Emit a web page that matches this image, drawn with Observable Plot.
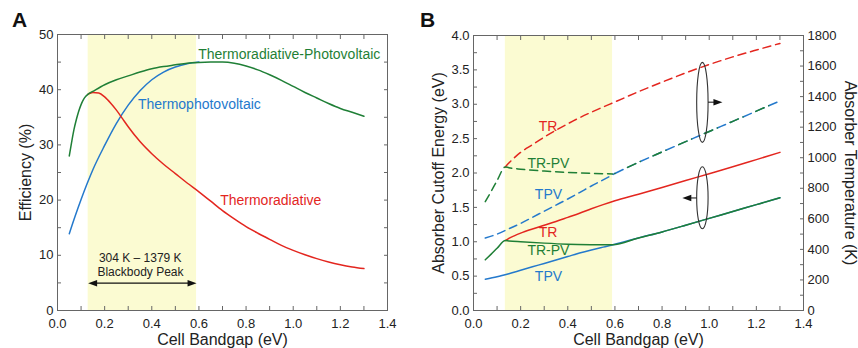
<!DOCTYPE html>
<html><head><meta charset="utf-8">
<script src="https://cdn.jsdelivr.net/npm/d3@7"></script>
<script src="https://cdn.jsdelivr.net/npm/@observablehq/plot@0.6"></script>
<style>
body{margin:0;background:#fff;}
#wrap{position:relative;width:858px;height:348px;overflow:hidden;font-family:"Liberation Sans",Arial,sans-serif;}
#a{position:absolute;left:0;top:0;}
#b{position:absolute;left:420px;top:0;}
</style></head><body><div id="wrap"><div id="a"></div><div id="b"></div></div>
<script>
// ---------- Panel A data (efficiency %, vs cell bandgap eV) ----------
const trpvX = [0.05,0.06,0.07,0.08,0.09,0.10,0.11,0.12,0.13,0.15,0.20,0.25,0.30,0.35,0.40,0.45,0.50,0.55,0.60,0.65,0.70,0.75,0.80,0.85,0.90,0.95,1.00,1.05,1.10,1.15,1.20,1.25,1.30];
const trpvEff = [28.0,30.5,32.8,34.6,36.1,37.3,38.2,38.8,39.2,39.7,40.9,41.8,42.5,43.2,43.8,44.2,44.5,44.8,44.95,45.0,45.0,44.8,44.3,43.6,42.7,41.7,40.6,39.5,38.5,37.5,36.6,35.9,35.2];
const tpvX = [0.05,0.075,0.10,0.125,0.15,0.20,0.25,0.30,0.35,0.40,0.45,0.50,0.55,0.60];
const tpvEff = [13.9,17.1,20.1,22.9,25.5,29.9,33.9,37.2,39.8,41.8,43.2,44.1,44.7,45.0];
const trX = [0.13,0.15,0.175,0.20,0.225,0.25,0.275,0.30,0.35,0.40,0.45,0.50,0.55,0.60,0.65,0.70,0.75,0.80,0.85,0.90,0.95,1.00,1.05,1.10,1.15,1.20,1.25,1.30];
const trEff = [39.2,39.5,39.4,38.7,37.6,36.3,34.8,33.3,30.6,28.4,26.5,24.8,23.1,21.5,19.8,18.1,16.6,15.2,14.0,12.9,11.8,10.9,10.1,9.4,8.8,8.3,7.9,7.6];

// ---------- Panel B data ----------
// solid: absorber cutoff energy (eV)
const trpvEX = [0.05,0.075,0.10,0.135,0.15,0.20,0.30,0.40,0.50,0.59,0.70,0.80,0.90,1.00,1.10,1.20,1.30];
const trpvE  = [0.737,0.82,0.905,1.017,1.012,1.0,0.98,0.965,0.958,0.955,1.055,1.143,1.24,1.34,1.44,1.54,1.64];
const tpvEX = [0.05,0.10,0.15,0.20,0.25,0.30,0.35,0.40,0.45,0.50,0.55,0.60,0.70,0.80,0.90,1.00,1.10,1.20,1.30];
const tpvE  = [0.455,0.49,0.535,0.585,0.635,0.685,0.735,0.785,0.835,0.88,0.922,0.963,1.055,1.143,1.24,1.34,1.44,1.54,1.64];
const trEX = [0.135,0.15,0.175,0.20,0.25,0.30,0.35,0.40,0.45,0.50,0.55,0.60,0.70,0.80,0.90,1.00,1.10,1.20,1.30];
const trE  = [1.017,1.05,1.09,1.125,1.185,1.24,1.295,1.355,1.415,1.48,1.54,1.596,1.69,1.79,1.89,1.99,2.09,2.195,2.30];
// dashed: absorber temperature (K)
const trpvTX = [0.05,0.075,0.10,0.135,0.15,0.20,0.30,0.40,0.50,0.59,0.60,0.70,0.80,0.90,1.00,1.10,1.20,1.30];
const trpvT  = [712,780,850,940,935,925,913,904,898,894,897,970,1038,1105,1172,1238,1305,1372];
const tpvTX = [0.05,0.10,0.15,0.20,0.25,0.30,0.35,0.40,0.45,0.50,0.55,0.60,0.70,0.80,0.90,1.00,1.10,1.20,1.30];
const tpvT  = [475,500,535,570,610,650,690,730,772,815,855,897,970,1038,1105,1172,1238,1305,1372];
const trTX = [0.135,0.15,0.20,0.25,0.30,0.35,0.40,0.45,0.50,0.55,0.60,0.70,0.80,0.90,1.00,1.10,1.20,1.30];
const trT  = [940,965,1035,1085,1135,1180,1222,1262,1298,1332,1365,1432,1495,1555,1610,1660,1705,1748];

// blackbody-peak band (eV) and tick values
const bandA = [0.13, 0.59];
const bandB = [0.135, 0.59];
const xTicks = d3.range(0, 15).map(i => i / 10);
const effTicks = d3.range(0, 51, 5);
const energyTicks = d3.range(0, 4.001, 0.25);
const tempTicks = d3.range(0, 1801, 100);

const GREEN = "#1f7f36", BLUE = "#2479cc", RED = "#e3261f", SHADE = "#fbfbd2", FRAME = "#666";
const FONT = "'Liberation Sans', Arial, sans-serif";
const K_PER_EV = 450; // right axis: 1800 K at 4.0
const SPLIT = 0.60;    // where TR-PV joins TPV

const pts = (xs, ys) => xs.map((x, i) => ({x, y: ys[i]}));
const fmtX = d => (Math.round(d * 10) % 2 === 0 ? d.toFixed(1) : "");

function ellipseSymbol(rx, ry) {
  const k = 0.5523;
  return {draw(c) {
    c.moveTo(rx, 0);
    c.bezierCurveTo(rx, ry * k, rx * k, ry, 0, ry);
    c.bezierCurveTo(-rx * k, ry, -rx, ry * k, -rx, 0);
    c.bezierCurveTo(-rx, -ry * k, -rx * k, -ry, 0, -ry);
    c.bezierCurveTo(rx * k, -ry, rx, -ry * k, rx, 0);
    c.closePath();
  }};
}
const headRight = {draw(c) { c.moveTo(0, 0); c.lineTo(-9, -3.2); c.lineTo(-9, 3.2); c.closePath(); }};
const headLeft  = {draw(c) { c.moveTo(0, 0); c.lineTo(9, -3.2); c.lineTo(9, 3.2); c.closePath(); }};

const style = {fontFamily: FONT, fontSize: "13px", background: "white", color: "#222", overflow: "visible"};

// ---------------- Panel A ----------------
const plotA = Plot.plot({
  width: 420, height: 348,
  marginLeft: 57, marginRight: 33, marginTop: 34, marginBottom: 38,
  style,
  x: {domain: [0, 1.4]},
  y: {domain: [0, 50]},
  marks: [
    Plot.rect([bandA], {x1: d => d[0], x2: d => d[1], y1: 0, y2: 50, fill: SHADE}),
    Plot.axisX(xTicks, {anchor: "bottom", tickSize: -4, tickPadding: 12, tickFormat: fmtX, label: null, stroke: FRAME}),
    Plot.axisX(xTicks, {anchor: "top", tickSize: -4, tickFormat: () => "", label: null, stroke: FRAME}),
    Plot.axisY(effTicks, {anchor: "left", tickSize: -4, tickPadding: 8, tickFormat: d => (d % 10 === 0 ? String(d) : ""), label: null, stroke: FRAME}),
    Plot.axisY(effTicks, {anchor: "right", tickSize: -4, tickFormat: () => "", label: null, stroke: FRAME}),
    Plot.frame({stroke: FRAME}),
    Plot.line(pts(tpvX, tpvEff), {x: "x", y: "y", stroke: BLUE, strokeWidth: 1.5, curve: "monotone-x"}),
    Plot.line(pts(trX, trEff), {x: "x", y: "y", stroke: RED, strokeWidth: 1.5, curve: "monotone-x"}),
    Plot.line(pts(trpvX, trpvEff), {x: "x", y: "y", stroke: GREEN, strokeWidth: 1.5, curve: "monotone-x"}),
    Plot.text(["Thermoradiative-Photovoltaic"], {x: 0.597, y: 46.3, text: d => d, textAnchor: "start", fill: GREEN, fontSize: 14}),
    Plot.text(["Thermophotovoltaic"], {x: 0.341, y: 37.3, text: d => d, textAnchor: "start", fill: BLUE, fontSize: 14}),
    Plot.text(["Thermoradiative"], {x: 0.69, y: 19.9, text: d => d, textAnchor: "start", fill: RED, fontSize: 14}),
    Plot.text(["304 K \u2013 1379 K"], {x: 0.351, y: 9.45, text: d => d, fill: "#222", fontSize: 12}),
    Plot.text(["Blackbody Peak"], {x: 0.352, y: 6.95, text: d => d, fill: "#222", fontSize: 12}),
    Plot.link([bandA], {x1: d => d[0] + 0.02, x2: d => d[1] - 0.02, y1: 4.95, y2: 4.95, stroke: "#111", strokeWidth: 1.3}),
    Plot.dot([bandA], {x: d => d[1], y: 4.95, symbol: headRight, r: 3, fill: "#111", stroke: "none"}),
    Plot.dot([bandA], {x: d => d[0], y: 4.95, symbol: headLeft, r: 3, fill: "#111", stroke: "none"}),
    Plot.text(["Efficiency (%)"], {frameAnchor: "left", dx: -32, rotate: -90, textAnchor: "middle", lineAnchor: "middle", text: d => d, fontSize: 16, fill: "#222"}),
    Plot.text(["Cell Bandgap (eV)"], {frameAnchor: "bottom", dy: 29, textAnchor: "middle", lineAnchor: "middle", text: d => d, fontSize: 16, fill: "#222"})
  ]
});
document.getElementById("a").appendChild(plotA);

// ---------------- Panel B ----------------
const tY = d => d.y / K_PER_EV;
const before = d => d.x <= SPLIT + 1e-9;
const after = d => d.x >= SPLIT - 1e-9;
const plotB = Plot.plot({
  width: 438, height: 348,
  marginLeft: 53, marginRight: 55, marginTop: 35, marginBottom: 38,
  style,
  x: {domain: [0, 1.4]},
  y: {domain: [0, 4]},
  marks: [
    Plot.rect([bandB], {x1: d => d[0], x2: d => d[1], y1: 0, y2: 4, fill: SHADE}),
    Plot.axisX(xTicks, {anchor: "bottom", tickSize: -4, tickPadding: 12, tickFormat: fmtX, label: null, stroke: FRAME}),
    Plot.axisX(xTicks, {anchor: "top", tickSize: -4, tickFormat: () => "", label: null, stroke: FRAME}),
    Plot.axisY(energyTicks, {anchor: "left", tickSize: -4, tickPadding: 8, tickFormat: d => (Math.abs(d * 2 - Math.round(d * 2)) < 1e-9 ? d.toFixed(1) : ""), label: null, stroke: FRAME}),
    Plot.axisY(tempTicks.map(t => t / K_PER_EV), {anchor: "right", tickSize: -4, tickPadding: 8, tickFormat: d => { const t = Math.round(d * K_PER_EV); return t % 200 === 0 ? String(t) : ""; }, label: null, stroke: FRAME}),
    Plot.frame({stroke: FRAME}),
    // dashed: temperature (right axis)
    Plot.line(pts(tpvTX, tpvT).filter(before), {x: "x", y: tY, stroke: BLUE, strokeWidth: 1.5, strokeDasharray: "8,5", curve: "monotone-x"}),
    Plot.line(pts(tpvTX, tpvT).filter(after), {x: "x", y: tY, stroke: BLUE, strokeWidth: 1.5, strokeDasharray: "9,5", curve: "monotone-x"}),
    Plot.line(pts(trTX, trT), {x: "x", y: tY, stroke: RED, strokeWidth: 1.5, strokeDasharray: "8,5", curve: "monotone-x"}),
    Plot.line(pts(trpvTX, trpvT).filter(d => d.x <= 0.59 + 1e-9), {x: "x", y: tY, stroke: GREEN, strokeWidth: 1.5, strokeDasharray: "8,5", curve: "monotone-x"}),
    Plot.line(pts(trpvTX, trpvT).filter(after), {x: "x", y: tY, stroke: GREEN, strokeWidth: 1.5, strokeDasharray: "0,14,9,5", curve: "monotone-x"}),
    // solid: energy (left axis)
    Plot.line(pts(tpvEX, tpvE), {x: "x", y: "y", stroke: BLUE, strokeWidth: 1.5, curve: "monotone-x"}),
    Plot.line(pts(trEX, trE), {x: "x", y: "y", stroke: RED, strokeWidth: 1.5, curve: "monotone-x"}),
    Plot.line(pts(trpvEX, trpvE), {x: "x", y: "y", stroke: GREEN, strokeWidth: 1.5, curve: "monotone-x"}),
    // series labels
    Plot.text(["TR"], {x: 0.316, y: 2.67, text: d => d, fill: RED, fontSize: 14}),
    Plot.text(["TR-PV"], {x: 0.318, y: 2.14, text: d => d, fill: GREEN, fontSize: 14}),
    Plot.text(["TPV"], {x: 0.318, y: 1.69, text: d => d, fill: BLUE, fontSize: 14}),
    Plot.text(["TR"], {x: 0.316, y: 1.13, text: d => d, fill: RED, fontSize: 14}),
    Plot.text(["TR-PV"], {x: 0.318, y: 0.87, text: d => d, fill: GREEN, fontSize: 14}),
    Plot.text(["TPV"], {x: 0.318, y: 0.50, text: d => d, fill: BLUE, fontSize: 14}),
    // ellipses with axis arrows
    Plot.dot([0], {x: 0.971, y: 3.027, symbol: ellipseSymbol(5.7, 40), r: 5, fill: "none", stroke: "#333", strokeWidth: 1.1}),
    Plot.dot([0], {x: 0.971, y: 1.64, symbol: ellipseSymbol(5.7, 31), r: 5, fill: "none", stroke: "#333", strokeWidth: 1.1}),
    Plot.link([0], {x1: 0.995, x2: 1.03, y1: 3.03, y2: 3.03, stroke: "#222", strokeWidth: 1.1}),
    Plot.dot([0], {x: 1.056, y: 3.03, symbol: headRight, r: 3, fill: "#111", stroke: "none"}),
    Plot.link([0], {x1: 0.947, x2: 0.91, y1: 1.637, y2: 1.637, stroke: "#222", strokeWidth: 1.1}),
    Plot.dot([0], {x: 0.886, y: 1.637, symbol: headLeft, r: 3, fill: "#111", stroke: "none"}),
    // axis titles
    Plot.text(["Absorber Cutoff Energy (eV)"], {frameAnchor: "left", dx: -35, rotate: -90, textAnchor: "middle", lineAnchor: "middle", text: d => d, fontSize: 16, fill: "#222"}),
    Plot.text(["Absorber Temperature (K)"], {frameAnchor: "right", dx: 47, rotate: 90, textAnchor: "middle", lineAnchor: "middle", text: d => d, fontSize: 16, fill: "#222"}),
    Plot.text(["Cell Bandgap (eV)"], {frameAnchor: "bottom", dy: 29, textAnchor: "middle", lineAnchor: "middle", text: d => d, fontSize: 16, fill: "#222"})
  ]
});
document.getElementById("b").appendChild(plotB);

// panel letters
const wrap = d3.select("#wrap");
wrap.append("div").text("A").style("position", "absolute").style("left", "12px").style("top", "8px")
  .style("font", "bold 21px " + FONT).style("color", "#111");
wrap.append("div").text("B").style("position", "absolute").style("left", "420px").style("top", "8px")
  .style("font", "bold 21px " + FONT).style("color", "#111");
</script></body></html>
